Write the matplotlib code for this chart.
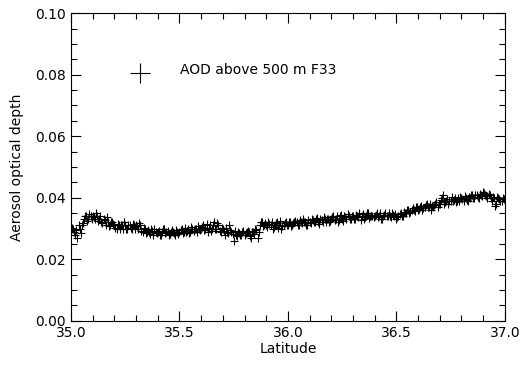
import matplotlib
matplotlib.use("Agg")
import matplotlib.pyplot as plt
from matplotlib.ticker import MultipleLocator, FormatStrFormatter

# samples on whole hundredths of a degree
lat = [
    35.00, 35.01, 35.02, 35.03, 35.04, 35.05, 35.06, 35.07, 35.08, 35.09,
    35.10, 35.11, 35.12, 35.13, 35.14, 35.15, 35.16, 35.17, 35.18, 35.19,
    35.20, 35.21, 35.22, 35.23, 35.24, 35.25, 35.26, 35.27, 35.28, 35.29,
    35.30, 35.31, 35.32, 35.33, 35.34, 35.35, 35.36, 35.37, 35.38, 35.39,
    35.40, 35.41, 35.42, 35.43, 35.44, 35.45, 35.46, 35.47, 35.48, 35.49,
    35.50, 35.51, 35.52, 35.53, 35.54, 35.55, 35.56, 35.57, 35.58, 35.59,
    35.60, 35.61, 35.62, 35.63, 35.64, 35.65, 35.66, 35.67, 35.68, 35.69,
    35.70, 35.71, 35.72, 35.73, 35.74, 35.75, 35.76, 35.77, 35.78, 35.79,
    35.80, 35.81, 35.82, 35.83, 35.84, 35.85, 35.86, 35.87, 35.88, 35.89,
    35.90, 35.91, 35.92, 35.93, 35.94, 35.95, 35.96, 35.97, 35.98, 35.99,
    36.00, 36.01, 36.02, 36.03, 36.04, 36.05, 36.06, 36.07, 36.08, 36.09,
    36.10, 36.11, 36.12, 36.13, 36.14, 36.15, 36.16, 36.17, 36.18, 36.19,
    36.20, 36.21, 36.22, 36.23, 36.24, 36.25, 36.26, 36.27, 36.28, 36.29,
    36.30, 36.31, 36.32, 36.33, 36.34, 36.35, 36.36, 36.37, 36.38, 36.39,
    36.40, 36.41, 36.42, 36.43, 36.44, 36.45, 36.46, 36.47, 36.48, 36.49,
    36.50, 36.51, 36.52, 36.53, 36.54, 36.55, 36.56, 36.57, 36.58, 36.59,
    36.60, 36.61, 36.62, 36.63, 36.64, 36.65, 36.66, 36.67, 36.68, 36.69,
    36.70, 36.71, 36.72, 36.73, 36.74, 36.75, 36.76, 36.77, 36.78, 36.79,
    36.80, 36.81, 36.82, 36.83, 36.84, 36.85, 36.86, 36.87, 36.88, 36.89,
    36.90, 36.91, 36.92, 36.93, 36.94, 36.95, 36.96, 36.97, 36.98, 36.99,
    37.00,
]

aod = [
    0.029, 0.030, 0.028, 0.027, 0.030, 0.031, 0.033, 0.034, 0.033, 0.034,
    0.034, 0.033, 0.034, 0.033, 0.032, 0.033, 0.031, 0.032, 0.031, 0.032,
    0.031, 0.030, 0.031, 0.031, 0.030, 0.031, 0.030, 0.031, 0.030, 0.031,
    0.031, 0.030, 0.031, 0.029, 0.030, 0.029, 0.029, 0.030, 0.028, 0.029,
    0.029, 0.028, 0.029, 0.030, 0.029, 0.028, 0.029, 0.029, 0.028, 0.029,
    0.029, 0.030, 0.029, 0.029, 0.030, 0.029, 0.030, 0.030, 0.029, 0.030,
    0.030, 0.031, 0.030, 0.029, 0.031, 0.030, 0.032, 0.030, 0.031, 0.029,
    0.030, 0.028, 0.029, 0.031, 0.029, 0.026, 0.028, 0.029, 0.028, 0.029,
    0.028, 0.029, 0.029, 0.027, 0.029, 0.030, 0.027, 0.031, 0.032, 0.031,
    0.031, 0.032, 0.031, 0.030, 0.031, 0.032, 0.031, 0.030, 0.031, 0.032,
    0.031, 0.032, 0.031, 0.032, 0.032, 0.031, 0.032, 0.033, 0.032, 0.031,
    0.032, 0.033, 0.032, 0.033, 0.032, 0.033, 0.032, 0.033, 0.033, 0.032,
    0.033, 0.034, 0.033, 0.032, 0.034, 0.033, 0.034, 0.033, 0.034, 0.033,
    0.034, 0.033, 0.034, 0.035, 0.034, 0.033, 0.034, 0.035, 0.034, 0.034,
    0.034, 0.035, 0.034, 0.033, 0.034, 0.035, 0.034, 0.034, 0.035, 0.034,
    0.033, 0.034, 0.035, 0.034, 0.035, 0.036, 0.035, 0.036, 0.036, 0.037,
    0.036, 0.037, 0.036, 0.037, 0.038, 0.037, 0.036, 0.037, 0.038, 0.037,
    0.038, 0.040, 0.038, 0.039, 0.038, 0.039, 0.039, 0.040, 0.039, 0.039,
    0.040, 0.039, 0.040, 0.039, 0.040, 0.041, 0.040, 0.041, 0.040, 0.041,
    0.042, 0.041, 0.040, 0.041, 0.039, 0.040, 0.038, 0.040, 0.039, 0.040,
    0.039,
]

# samples in between, on the half hundredths
lat_mid = [
    35.005, 35.015, 35.025, 35.035, 35.045, 35.055, 35.065, 35.075, 35.085, 35.095,
    35.105, 35.115, 35.125, 35.135, 35.145, 35.155, 35.165, 35.175, 35.185, 35.195,
    35.205, 35.215, 35.225, 35.235, 35.245, 35.255, 35.265, 35.275, 35.285, 35.295,
    35.305, 35.315, 35.325, 35.335, 35.345, 35.355, 35.365, 35.375, 35.385, 35.395,
    35.405, 35.415, 35.425, 35.435, 35.445, 35.455, 35.465, 35.475, 35.485, 35.495,
    35.505, 35.515, 35.525, 35.535, 35.545, 35.555, 35.565, 35.575, 35.585, 35.595,
    35.605, 35.615, 35.625, 35.635, 35.645, 35.655, 35.665, 35.675, 35.685, 35.695,
    35.705, 35.715, 35.725, 35.735, 35.745, 35.755, 35.765, 35.775, 35.785, 35.795,
    35.805, 35.815, 35.825, 35.835, 35.845, 35.855, 35.865, 35.875, 35.885, 35.895,
    35.905, 35.915, 35.925, 35.935, 35.945, 35.955, 35.965, 35.975, 35.985, 35.995,
    36.005, 36.015, 36.025, 36.035, 36.045, 36.055, 36.065, 36.075, 36.085, 36.095,
    36.105, 36.115, 36.125, 36.135, 36.145, 36.155, 36.165, 36.175, 36.185, 36.195,
    36.205, 36.215, 36.225, 36.235, 36.245, 36.255, 36.265, 36.275, 36.285, 36.295,
    36.305, 36.315, 36.325, 36.335, 36.345, 36.355, 36.365, 36.375, 36.385, 36.395,
    36.405, 36.415, 36.425, 36.435, 36.445, 36.455, 36.465, 36.475, 36.485, 36.495,
    36.505, 36.515, 36.525, 36.535, 36.545, 36.555, 36.565, 36.575, 36.585, 36.595,
    36.605, 36.615, 36.625, 36.635, 36.645, 36.655, 36.665, 36.675, 36.685, 36.695,
    36.705, 36.715, 36.725, 36.735, 36.745, 36.755, 36.765, 36.775, 36.785, 36.795,
    36.805, 36.815, 36.825, 36.835, 36.845, 36.855, 36.865, 36.875, 36.885, 36.895,
    36.905, 36.915, 36.925, 36.935, 36.945, 36.955, 36.965, 36.975, 36.985, 36.995,
]

aod_mid = [
    0.0302, 0.0288, 0.0296, 0.0310, 0.0285, 0.0318, 0.0342, 0.0326, 0.0348, 0.0331,
    0.0338, 0.0350, 0.0325, 0.0340, 0.0318, 0.0327, 0.0336, 0.0309, 0.0322, 0.0314,
    0.0303, 0.0316, 0.0297, 0.0310, 0.0321, 0.0298, 0.0312, 0.0302, 0.0316, 0.0297,
    0.0308, 0.0318, 0.0293, 0.0301, 0.0287, 0.0296, 0.0282, 0.0291, 0.0299, 0.0284,
    0.0293, 0.0280, 0.0297, 0.0286, 0.0292, 0.0281, 0.0295, 0.0287, 0.0296, 0.0283,
    0.0296, 0.0287, 0.0302, 0.0291, 0.0286, 0.0305, 0.0293, 0.0299, 0.0308, 0.0294,
    0.0305, 0.0294, 0.0316, 0.0302, 0.0293, 0.0310, 0.0297, 0.0318, 0.0292, 0.0303,
    0.0292, 0.0301, 0.0285, 0.0296, 0.0283, 0.0291, 0.0276, 0.0287, 0.0279, 0.0292,
    0.0284, 0.0293, 0.0275, 0.0289, 0.0281, 0.0295, 0.0288, 0.0322, 0.0309, 0.0318,
    0.0305, 0.0314, 0.0321, 0.0306, 0.0317, 0.0302, 0.0324, 0.0309, 0.0318, 0.0311,
    0.0322, 0.0308, 0.0319, 0.0326, 0.0313, 0.0328, 0.0317, 0.0322, 0.0311, 0.0327,
    0.0318, 0.0329, 0.0321, 0.0334, 0.0316, 0.0327, 0.0338, 0.0320, 0.0331, 0.0324,
    0.0336, 0.0327, 0.0340, 0.0329, 0.0343, 0.0325, 0.0337, 0.0346, 0.0331, 0.0341,
    0.0330, 0.0344, 0.0337, 0.0328, 0.0346, 0.0339, 0.0351, 0.0333, 0.0342, 0.0336,
    0.0345, 0.0338, 0.0349, 0.0332, 0.0344, 0.0340, 0.0351, 0.0336, 0.0343, 0.0347,
    0.0339, 0.0348, 0.0341, 0.0355, 0.0349, 0.0360, 0.0353, 0.0366, 0.0358, 0.0369,
    0.0362, 0.0373, 0.0366, 0.0378, 0.0369, 0.0381, 0.0372, 0.0376, 0.0386, 0.0379,
    0.0392, 0.0410, 0.0385, 0.0396, 0.0389, 0.0401, 0.0393, 0.0387, 0.0398, 0.0404,
    0.0396, 0.0407, 0.0393, 0.0402, 0.0410, 0.0399, 0.0408, 0.0403, 0.0413, 0.0406,
    0.0415, 0.0405, 0.0411, 0.0398, 0.0403, 0.0372, 0.0402, 0.0395, 0.0388, 0.0397,
]

plt.rcParams["font.family"] = "DejaVu Sans"
fig = plt.figure(figsize=(5.22, 3.65), dpi=100)
ax = fig.add_axes([0.136, 0.121, 0.831, 0.843])

ax.plot(lat + lat_mid, aod + aod_mid, linestyle="none", marker="+",
        color="black", markersize=6, markeredgewidth=0.8)

# legend drawn by hand, like the IDL original
ax.plot([0.159], [0.805], transform=ax.transAxes, linestyle="none",
        marker="+", color="black", markersize=15, markeredgewidth=0.8)
ax.text(0.251, 0.815, "AOD above 500 m F33", transform=ax.transAxes,
        fontsize=10, va="center", ha="left")

ax.set_xlim(35.0, 37.0)
ax.set_ylim(0.0, 0.1)
ax.xaxis.set_major_locator(MultipleLocator(0.5))
ax.xaxis.set_minor_locator(MultipleLocator(0.1))
ax.yaxis.set_major_locator(MultipleLocator(0.02))
ax.yaxis.set_minor_locator(MultipleLocator(0.005))
ax.xaxis.set_major_formatter(FormatStrFormatter("%.1f"))
ax.yaxis.set_major_formatter(FormatStrFormatter("%.2f"))
ax.tick_params(which="both", direction="in", top=True, right=True,
               labelsize=10, width=0.8)
ax.tick_params(which="major", length=7)
ax.tick_params(which="minor", length=4)
for s in ax.spines.values():
    s.set_linewidth(0.8)

ax.set_xlabel("Latitude", fontsize=10, labelpad=2)
ax.set_ylabel("Aerosol optical depth", fontsize=10, labelpad=8)

fig.savefig("out.png", dpi=100)
